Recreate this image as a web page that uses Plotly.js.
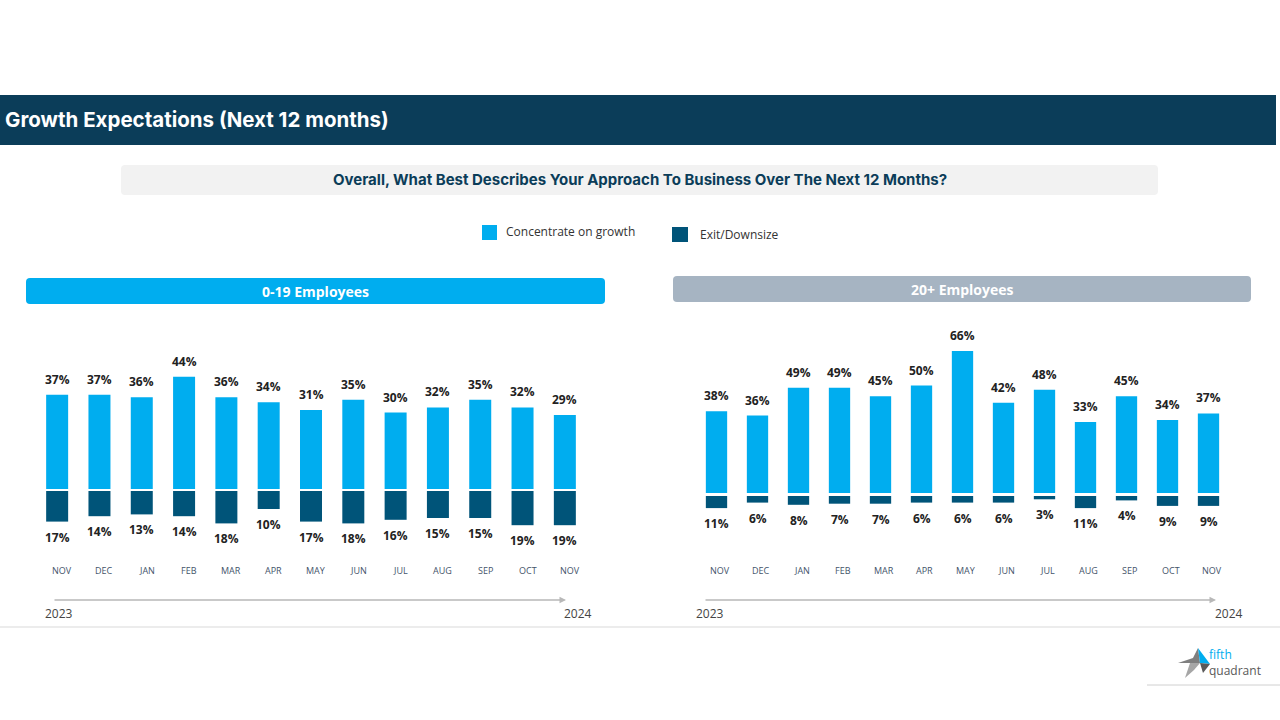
<!DOCTYPE html>
<html>
<head>
<meta charset="utf-8">
<script src="https://cdn.plot.ly/plotly-3.0.1.min.js"></script>
<style>
  html, body { margin: 0; padding: 0; background: #ffffff; }
  #chart { width: 1280px; height: 720px; }
</style>
</head>
<body>
<div id="chart"></div>
<script>
// ---------------- DATA ----------------
const months = ["NOV","DEC","JAN","FEB","MAR","APR","MAY","JUN","JUL","AUG","SEP","OCT","NOV"];
const smallGrowth = [37,37,36,44,36,34,31,35,30,32,35,32,29];
const smallExit   = [17,14,13,14,18,10,17,18,16,15,15,19,19];
const largeGrowth = [38,36,49,49,45,50,66,42,48,33,45,34,37];
const largeExit   = [11,6,8,7,7,6,6,6,3,11,4,9,9];
const seriesNames = ["Concentrate on growth","Exit/Downsize"];
const panelTitles = ["0-19 Employees","20+ Employees"];
const yearStart = "2023", yearEnd = "2024";
const pageTitle = "Growth Expectations (Next 12 months)";
const question = "Overall, What Best Describes Your Approach To Business Over The Next 12 Months?";

// ---------------- STYLE ----------------
const W = 1280, H = 720;
const cGrowth = "#00adef", cExit = "#005479", cNavy = "#0b3d59";
const px = x => x / W;
const py = y => 1 - y / H;
const idx = months.map((m, i) => i);

function rrect(x0, y0, x1, y1, r) {
  const X = v => px(v).toFixed(5), Y = v => py(v).toFixed(5);
  return `M${X(x0 + r)},${Y(y0)} L${X(x1 - r)},${Y(y0)} Q${X(x1)},${Y(y0)} ${X(x1)},${Y(y0 + r)} ` +
         `L${X(x1)},${Y(y1 - r)} Q${X(x1)},${Y(y1)} ${X(x1 - r)},${Y(y1)} L${X(x0 + r)},${Y(y1)} ` +
         `Q${X(x0)},${Y(y1)} ${X(x0)},${Y(y1 - r)} L${X(x0)},${Y(y0 + r)} Q${X(x0)},${Y(y0)} ${X(x0 + r)},${Y(y0)} Z`;
}

const barCommon = { type: "bar", hoverinfo: "skip", showlegend: false };
const traces = [
  Object.assign({}, barCommon, { x: idx, y: smallGrowth, xaxis: "x",  yaxis: "y",  name: seriesNames[0], marker: { color: cGrowth, line: { width: 0 } } }),
  Object.assign({}, barCommon, { x: idx, y: smallExit,   xaxis: "x",  yaxis: "y2", name: seriesNames[1], marker: { color: cExit, line: { width: 0 } } }),
  Object.assign({}, barCommon, { x: idx, y: largeGrowth, xaxis: "x2", yaxis: "y3", name: seriesNames[0], marker: { color: cGrowth, line: { width: 0 } } }),
  Object.assign({}, barCommon, { x: idx, y: largeExit,   xaxis: "x2", yaxis: "y4", name: seriesNames[1], marker: { color: cExit, line: { width: 0 } } })
];

const hidden = { visible: false, fixedrange: true };
const layout = {
  width: W, height: H,
  margin: { l: 0, r: 0, t: 0, b: 0 },
  paper_bgcolor: "#ffffff", plot_bgcolor: "rgba(0,0,0,0)",
  bargap: 0.48,
  showlegend: false,
  font: { family: "Open Sans, sans-serif", color: "#222" },
  xaxis:  Object.assign({}, hidden, { domain: [px(36), px(586)],   range: [-0.5, 12.5], anchor: "y" }),
  xaxis2: Object.assign({}, hidden, { domain: [px(696), px(1229)], range: [-0.5, 12.5], anchor: "y3" }),
  yaxis:  Object.assign({}, hidden, { domain: [py(489), py(489 - 2.55 * 60)], range: [0, 60], anchor: "x" }),
  yaxis2: Object.assign({}, hidden, { domain: [py(491 + 1.8 * 30), py(491)],  range: [30, 0], anchor: "x" }),
  yaxis3: Object.assign({}, hidden, { domain: [py(493), py(493 - 2.15 * 80)], range: [0, 80], anchor: "x2" }),
  yaxis4: Object.assign({}, hidden, { domain: [py(496 + 1.1 * 30), py(496)],  range: [30, 0], anchor: "x2" }),
  shapes: [], annotations: []
};

// header band
layout.shapes.push({ type: "rect", xref: "paper", yref: "paper", x0: px(0), x1: px(1276), y0: py(145), y1: py(95), fillcolor: cNavy, line: { width: 0 }, layer: "below" });
layout.annotations.push({ xref: "paper", yref: "paper", x: px(3), y: py(120), xanchor: "left", yanchor: "middle", showarrow: false,
  text: "<b>" + pageTitle + "</b>", font: { family: "Inter, Lato, sans-serif", size: 20.5, color: "#ffffff" } });

// question box
layout.shapes.push({ type: "path", xref: "paper", yref: "paper", path: rrect(121, 165, 1158, 195, 4), fillcolor: "#f2f2f2", line: { width: 0 }, layer: "below" });
layout.annotations.push({ xref: "paper", yref: "paper", x: px(640), y: py(179), xanchor: "center", yanchor: "middle", showarrow: false,
  text: "<b>" + question + "</b>", font: { family: "Inter, Lato, sans-serif", size: 15, color: cNavy } });

// legend
layout.shapes.push({ type: "rect", xref: "paper", yref: "paper", x0: px(482), x1: px(497), y0: py(240), y1: py(225), fillcolor: cGrowth, line: { width: 0 } });
layout.shapes.push({ type: "rect", xref: "paper", yref: "paper", x0: px(672), x1: px(688), y0: py(242), y1: py(227), fillcolor: cExit, line: { width: 0 } });
layout.annotations.push({ xref: "paper", yref: "paper", x: px(504), y: py(232), xanchor: "left", yanchor: "middle", showarrow: false,
  text: seriesNames[0], font: { size: 12, color: "#333" } });
layout.annotations.push({ xref: "paper", yref: "paper", x: px(698), y: py(235), xanchor: "left", yanchor: "middle", showarrow: false,
  text: seriesNames[1], font: { size: 12, color: "#333" } });

// panel title bars
layout.shapes.push({ type: "path", xref: "paper", yref: "paper", path: rrect(26, 278, 605, 304, 4), fillcolor: cGrowth, line: { width: 0 }, layer: "below" });
layout.shapes.push({ type: "path", xref: "paper", yref: "paper", path: rrect(673, 276, 1251, 302, 4), fillcolor: "#a6b4c2", line: { width: 0 }, layer: "below" });
layout.annotations.push({ xref: "paper", yref: "paper", x: px(315), y: py(291), xanchor: "center", yanchor: "middle", showarrow: false,
  text: "<b>" + panelTitles[0] + "</b>", font: { size: 14, color: "#ffffff" } });
layout.annotations.push({ xref: "paper", yref: "paper", x: px(962), y: py(289), xanchor: "center", yanchor: "middle", showarrow: false,
  text: "<b>" + panelTitles[1] + "</b>", font: { size: 14, color: "#ffffff" } });

// value labels + month labels
function addLabels(xref, yG, yE, growth, exit, monthShift) {
  idx.forEach(i => {
    layout.annotations.push({ xref: xref, yref: yG, x: i, y: growth[i], xanchor: "center", yanchor: "bottom", yshift: 5, showarrow: false,
      text: "<b>" + growth[i] + "%</b>", font: { size: 12, color: "#222" } });
    layout.annotations.push({ xref: xref, yref: yE, x: i, y: exit[i], xanchor: "center", yanchor: "top", yshift: -5, showarrow: false,
      text: "<b>" + exit[i] + "%</b>", font: { size: 12, color: "#222" } });
    layout.annotations.push({ xref: xref, yref: "paper", x: i, y: py(570), xanchor: "center", yanchor: "middle", xshift: monthShift, showarrow: false,
      text: months[i], font: { size: 9, color: "#44546a" } });
  });
}
addLabels("x", "y", "y2", smallGrowth, smallExit, 5);
addLabels("x2", "y3", "y4", largeGrowth, largeExit, 3);

// timeline arrows and years
function timeline(x0, x1, y, yearL, yearR) {
  layout.annotations.push({ xref: "paper", yref: "paper", x: px(x1), y: py(y), ax: -(x1 - x0), ay: 0, text: "", showarrow: true,
    arrowhead: 2, arrowsize: 1, arrowwidth: 1.3, arrowcolor: "#b8b8b8" });
  layout.annotations.push({ xref: "paper", yref: "paper", x: px(yearL), y: py(613), xanchor: "center", yanchor: "middle", showarrow: false,
    text: yearStart, font: { size: 12, color: "#444" } });
  layout.annotations.push({ xref: "paper", yref: "paper", x: px(yearR), y: py(613), xanchor: "center", yanchor: "middle", showarrow: false,
    text: yearEnd, font: { size: 12, color: "#444" } });
}
timeline(53, 566, 600, 59, 578);
timeline(704, 1216, 600, 710, 1229);

// footer lines
layout.shapes.push({ type: "line", xref: "paper", yref: "paper", x0: 0, x1: 1, y0: py(627), y1: py(627), line: { color: "#d9d9d9", width: 1 } });
layout.shapes.push({ type: "line", xref: "paper", yref: "paper", x0: px(1147), x1: 1, y0: py(685), y1: py(685), line: { color: "#d0d0d0", width: 1 } });

// logo (approximate)
function poly(pts) {
  return "M" + pts.map(p => px(p[0]).toFixed(5) + "," + py(p[1]).toFixed(5)).join(" L") + " Z";
}
layout.shapes.push({ type: "path", xref: "paper", yref: "paper", path: poly([[1178,663],[1193,658],[1198,648],[1200,663]]), fillcolor: "#7f7f7f", line: { width: 0 } });
layout.shapes.push({ type: "path", xref: "paper", yref: "paper", path: poly([[1185,678],[1190,663],[1200,663],[1194,670]]), fillcolor: "#a6a6a6", line: { width: 0 } });
layout.shapes.push({ type: "path", xref: "paper", yref: "paper", path: poly([[1198,648],[1210,664],[1200,663]]), fillcolor: cGrowth, line: { width: 0 } });
layout.shapes.push({ type: "path", xref: "paper", yref: "paper", path: poly([[1200,663],[1210,664],[1203,673]]), fillcolor: "#595959", line: { width: 0 } });
layout.annotations.push({ xref: "paper", yref: "paper", x: px(1207), y: py(662), xanchor: "left", yanchor: "middle", showarrow: false, align: "left",
  text: "<span style='color:" + cGrowth + "'>fifth</span><br>quadrant", font: { family: "Open Sans, sans-serif", size: 12, color: "#595959" } });

Plotly.newPlot("chart", traces, layout, { displayModeBar: false, staticPlot: true });
</script>
</body>
</html>
